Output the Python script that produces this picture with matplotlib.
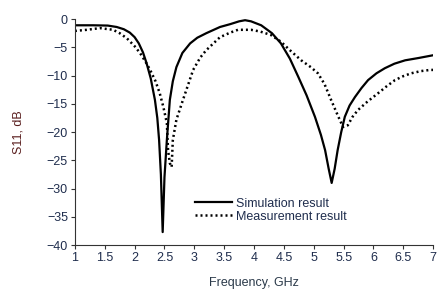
import matplotlib

matplotlib.use("Agg")
import matplotlib.pyplot as plt

plt.rcParams["font.family"] = ["Liberation Sans", "DejaVu Sans"]

# Simulation (solid)
sim_freq = [1.0, 1.3, 1.55, 1.7, 1.82, 1.92, 2.0, 2.07, 2.14, 2.2, 2.27, 2.34, 2.38,
            2.41, 2.44, 2.47, 2.5, 2.54, 2.59, 2.64, 2.7, 2.8, 2.93, 3.05, 3.2,
            3.43, 3.6, 3.75, 3.85, 3.95, 4.12, 4.3, 4.45, 4.6, 4.74, 4.88, 5.02,
            5.12, 5.19, 5.25, 5.3, 5.35, 5.4, 5.46, 5.52, 5.6, 5.69, 5.8, 5.91,
            6.05, 6.19, 6.35, 6.53, 6.75, 7.0]
sim_db = [-1.1, -1.1, -1.15, -1.4, -1.8, -2.4, -3.2, -4.3, -5.9, -7.8, -10.5, -14.3,
          -17.5, -21.4, -27.5, -37.7, -28.0, -21.4, -14.3, -11.0, -8.5, -6.0,
          -4.3, -3.3, -2.5, -1.4, -0.9, -0.4, -0.2, -0.4, -1.1, -2.5, -4.3, -7.0,
          -10.2, -13.5, -17.3, -20.5, -23.2, -26.5, -29.0, -26.5, -23.2, -20.0,
          -17.3, -15.3, -13.8, -12.2, -10.8, -9.6, -8.7, -7.9, -7.3, -6.9, -6.4]

# Measurement (dotted)
meas_freq = [1.0, 1.2, 1.42, 1.64, 1.75, 1.87, 2.0, 2.09, 2.18, 2.26, 2.35, 2.42,
             2.48, 2.54, 2.56, 2.59, 2.62, 2.64, 2.7, 2.81, 2.9, 2.98, 3.1, 3.2,
             3.43, 3.6, 3.73, 3.95, 4.1, 4.28, 4.45, 4.6, 4.79, 4.95, 5.07, 5.18,
             5.29, 5.4, 5.49, 5.57, 5.65, 5.74, 5.9, 6.08, 6.22, 6.36, 6.5, 6.63,
             6.8, 6.95, 7.0]
meas_db = [-2.1, -1.9, -1.6, -1.9, -2.5, -3.4, -4.8, -6.0, -7.5, -9.0, -11.0, -13.1,
           -15.5, -18.4, -23.2, -25.5, -26.2, -21.4, -17.8, -14.3, -11.5, -9.0,
           -6.8, -5.5, -3.2, -2.4, -1.9, -1.9, -2.2, -2.8, -4.0, -5.5, -7.3, -8.5,
           -9.6, -11.5, -14.3, -17.0, -19.1, -18.8, -17.3, -16.1, -14.6, -13.1,
           -11.9, -10.8, -10.1, -9.6, -9.2, -9.0, -9.0]

x_ticks = [1, 1.5, 2, 2.5, 3, 3.5, 4, 4.5, 5, 5.5, 6, 6.5, 7]
y_ticks = [0, -5, -10, -15, -20, -25, -30, -35, -40]

tick_color = "#1f2d4d"

fig = plt.figure(figsize=(4.38, 2.89), dpi=100)
ax = fig.add_axes([0.171, 0.152, 0.818, 0.782])

ax.plot(sim_freq, sim_db, color="black", lw=1.6, label="Simulation result")
ax.plot(meas_freq, meas_db, color="black", lw=1.8, linestyle=(0, (0.8, 1.2)),
        label="Measurement result")

ax.set_xlim(1, 7)
ax.set_ylim(-40, 0)
ax.set_xticks(x_ticks)
ax.set_xticklabels([f"{t:g}" for t in x_ticks])
ax.set_yticks(y_ticks)

for side in ["top", "right"]:
    ax.spines[side].set_visible(False)
for side in ["left", "bottom"]:
    ax.spines[side].set_color("#333333")
    ax.spines[side].set_linewidth(0.8)

ax.tick_params(direction="out", length=3, width=0.8, color="#333333",
               labelsize=9, labelcolor=tick_color, pad=2)

ax.set_xlabel("Frequency, GHz", fontsize=9, color="#2b3a4a", labelpad=9)
ax.set_ylabel("S11, dB", fontsize=9, color="#5a1e1e", labelpad=16)

ax.legend(loc="upper left", bbox_to_anchor=(0.335, 0.21), frameon=False,
          fontsize=9, handlelength=3.0, handletextpad=0.3, labelspacing=0.1,
          borderpad=0, borderaxespad=0, labelcolor=tick_color)

fig.savefig("out.png", dpi=100)
